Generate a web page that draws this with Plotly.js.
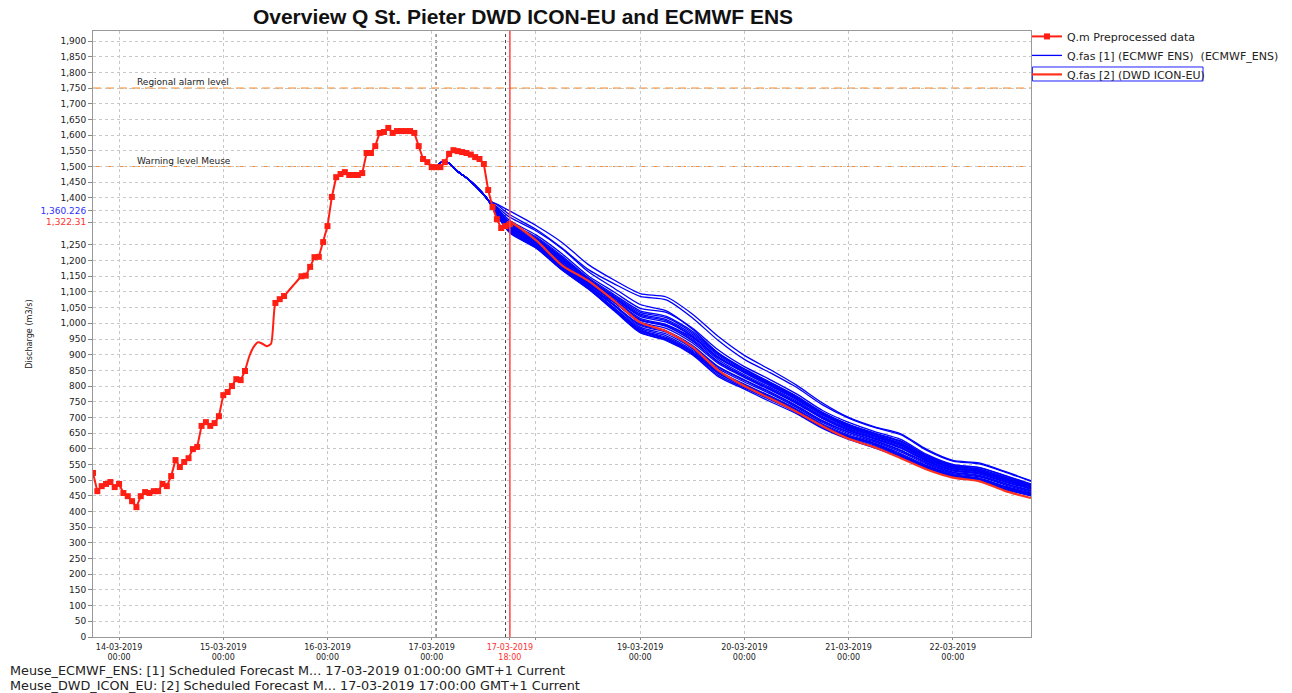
<!DOCTYPE html>
<html>
<head>
<meta charset="utf-8">
<script src="https://cdn.plot.ly/plotly-3.0.1.min.js"></script>
<style>html,body{margin:0;padding:0;background:#fff;}#chart{width:1292px;height:693px;}</style>
</head>
<body>
<div id="chart"></div>
<script>
// ---------- DATA ----------
// Observed (Q.m Preprocessed data), hourly from 2019-03-13 18:00; null = no measured point
const obsStart = [2019, 2, 13, 18];
const obsValues = [
  523,465,481,488,494,478,488,459,449,433,414,449,462,459,465,465,488,481,513,564,
  542,558,570,599,606,673,685,673,682,704,771,781,800,822,819,848,null,null,null,null,
  null,null,1065,1077,1087,null,null,null,1150,1152,1180,1211,1212,1259,1310,1403,1466,1476,1482,1473,
  1473,1473,1479,1543,1543,1565,1607,1610,1623,1607,1613,1613,1613,1613,1607,1565,1524,1514,1498,1498,
  1498,1514,1540,1552,1549,1546,1543,1538,1530,1524,1508,1425,1371,1332,1304,1310,1316
];
// Interpolated (line-only) part of the observed series, hourly from hour 35
const obsInterpStartHour = 35;
const obsInterp = [848,895,925,940,935,927,935,1065,1077,1087,1103,1119,1135,1150];

// ECMWF ENS: common start, then members
const ensCommonTimes = ['2019-03-17 01:00','2019-03-17 02:00','2019-03-17 03:00','2019-03-17 04:00','2019-03-17 06:00',
  '2019-03-17 08:00','2019-03-17 09:00','2019-03-17 11:00','2019-03-17 12:00','2019-03-17 13:00'];
const ensCommon = [1498,1512,1517,1510,1484,1464,1452,1425,1410,1393];
const ensMemberTimes = ['2019-03-17 15:00','2019-03-17 18:00',
  '2019-03-18 00:00','2019-03-18 06:00','2019-03-18 12:00','2019-03-18 18:00',
  '2019-03-19 00:00','2019-03-19 06:00','2019-03-19 12:00','2019-03-19 18:00',
  '2019-03-20 00:00','2019-03-20 06:00','2019-03-20 12:00','2019-03-20 18:00',
  '2019-03-21 00:00','2019-03-21 06:00','2019-03-21 12:00','2019-03-21 18:00',
  '2019-03-22 00:00','2019-03-22 06:00','2019-03-22 12:00','2019-03-22 18:00'];
const ensMembers = [
  [1380,1358,1312,1258,1188,1138,1095,1084,1030,958,898,852,803,746,700,670,648,598,563,555,528,498],
  [1378,1346,1300,1240,1172,1126,1086,1075,1018,945,885,842,796,740,698,668,645,595,561,552,526,496],
  [1372,1338,1295,1238,1165,1112,1060,1040,982,905,852,808,762,710,668,640,612,568,538,528,501,476],
  [1368,1328,1282,1222,1152,1100,1048,1035,985,915,862,820,775,722,684,655,630,582,550,541,515,488],
  [1365,1322,1276,1215,1146,1092,1040,1022,975,905,855,812,768,716,678,650,624,578,546,536,510,484],
  [1363,1320,1273,1211,1143,1088,1035,1018,970,902,852,810,766,715,677,649,622,577,545,535,509,483],
  [1362,1318,1270,1208,1140,1085,1030,1012,965,898,848,806,762,712,673,645,618,574,542,532,506,481],
  [1361,1316,1268,1206,1138,1082,1026,1008,960,893,845,803,759,709,671,643,616,572,540,530,504,479],
  [1360,1315,1266,1204,1136,1080,1022,1004,958,890,842,800,757,707,669,641,614,570,539,529,503,478],
  [1358,1312,1262,1200,1132,1076,1016,996,950,884,836,795,752,703,665,637,610,566,536,526,500,476],
  [1357,1310,1260,1198,1130,1074,1012,992,946,876,830,789,746,698,660,632,604,561,531,521,495,472],
  [1356,1309,1258,1196,1128,1072,1010,990,944,878,832,791,748,700,662,634,606,563,533,523,497,474],
  [1355,1306,1255,1192,1125,1068,1004,984,938,872,827,787,744,696,658,631,602,560,530,520,494,471],
  [1354,1304,1253,1188,1121,1058,996,975,930,862,820,781,738,690,654,627,596,556,526,516,490,467],
  [1353,1300,1248,1182,1118,1066,1010,995,955,890,845,805,762,712,675,648,625,578,548,540,514,486],
  [1352,1300,1250,1185,1120,1060,993,972,926,860,818,779,736,688,652,625,594,554,524,514,488,465],
  [1351,1297,1246,1178,1115,1050,984,960,914,848,806,768,727,679,644,618,585,547,518,507,481,459],
  [1350,1298,1248,1182,1118,1056,988,966,920,855,813,775,732,684,648,622,590,551,521,511,485,462],
  [1349,1302,1256,1190,1126,1070,1000,975,920,848,800,760,720,670,632,606,574,540,512,500,472,451],
  [1348,1294,1244,1176,1114,1048,980,955,910,845,803,767,724,676,641,616,582,545,516,505,479,457],
  [1347,1293,1243,1175,1113,1046,978,952,908,843,800,765,722,674,639,614,580,543,515,504,478,456],
  [1347,1292,1242,1173,1112,1044,975,950,905,840,798,762,720,672,637,612,578,542,514,502,476,455],
  [1346,1290,1241,1171,1111,1042,972,947,902,835,794,756,716,668,634,608,575,540,512,500,473,452],
  [1345,1288,1240,1170,1110,1040,970,945,900,830,790,750,712,665,630,603,572,537,510,498,470,450]
];

// DWD ICON-EU forecast
const dwdTimes = ['2019-03-17 17:00','2019-03-17 18:00',
  '2019-03-18 00:00','2019-03-18 06:00','2019-03-18 12:00','2019-03-18 18:00',
  '2019-03-19 00:00','2019-03-19 06:00','2019-03-19 12:00','2019-03-19 18:00',
  '2019-03-20 00:00','2019-03-20 06:00','2019-03-20 12:00','2019-03-20 18:00',
  '2019-03-21 00:00','2019-03-21 06:00','2019-03-21 12:00','2019-03-21 18:00',
  '2019-03-22 00:00','2019-03-22 06:00','2019-03-22 12:00','2019-03-22 18:00'];
const dwdValues = [1316,1322,1265,1185,1136,1072,1003,975,925,850,800,760,718,672,632,605,570,534,508,497,466,443];

// Thresholds
const thresholdNames = ['Regional alarm level','Warning level Meuse'];
const thresholdValues = [1750, 1500];

// Axis ticks
const yTickVals = [0,50,100,150,200,250,300,350,400,450,500,550,600,650,700,750,800,850,900,950,1000,1050,1100,1150,1200,1250,
  1322.31,1360.226,1400,1450,1500,1550,1600,1650,1700,1750,1800,1850,1900];
const yTickText = ['0','50','100','150','200','250','300','350','400','450','500','550','600','650','700','750','800','850','900','950',
  '1,000','1,050','1,100','1,150','1,200','1,250',
  '<span style="color:#ff3030">1,322.31</span>','<span style="color:#3030ff">1,360.226</span>',
  '1,400','1,450','1,500','1,550','1,600','1,650','1,700','1,750','1,800','1,850','1,900'];
const xTickVals = ['2019-03-14 00:00','2019-03-15 00:00','2019-03-16 00:00','2019-03-17 00:00','2019-03-17 18:00',
  '2019-03-18 00:00','2019-03-19 00:00','2019-03-20 00:00','2019-03-21 00:00','2019-03-22 00:00'];
const xTickText = ['14-03-2019<br>00:00','15-03-2019<br>00:00','16-03-2019<br>00:00','17-03-2019<br>00:00',
  '<span style="color:#ff3030">17-03-2019<br>18:00</span>','',
  '19-03-2019<br>00:00','20-03-2019<br>00:00','21-03-2019<br>00:00','22-03-2019<br>00:00'];

const ecmwfT0 = '2019-03-17 01:00';
const dwdT0 = '2019-03-17 17:00';
const displayTime = '2019-03-17 18:00';

const footerLines = [
  'Meuse_ECMWF_ENS: [1] Scheduled Forecast M... 17-03-2019 01:00:00 GMT+1 Current',
  'Meuse_DWD_ICON_EU: [2] Scheduled Forecast M... 17-03-2019 17:00:00 GMT+1 Current'
];

// ---------- BUILD ----------
function pad(n){return (n<10?'0':'')+n;}
function hourTime(h){
  const d = new Date(Date.UTC(obsStart[0],obsStart[1],obsStart[2],obsStart[3]) + h*3600000);
  return d.getUTCFullYear()+'-'+pad(d.getUTCMonth()+1)+'-'+pad(d.getUTCDate())+' '+pad(d.getUTCHours())+':00';
}
const obsTimes = obsValues.map((v,i)=>hourTime(i));
const obsInterpTimes = obsInterp.map((v,i)=>hourTime(obsInterpStartHour+i));

const FONT = 'DejaVu Sans, Verdana, sans-serif';
const RED = 'rgb(255,30,20)';
const traces = [];

ensMembers.forEach((m,k)=>{
  traces.push({
    type:'scatter', mode:'lines',
    x: ensCommonTimes.concat(ensMemberTimes),
    y: ensCommon.concat(m),
    line:{color:'#0000ff', width:1.3, shape:'spline', smoothing:0.7},
    name:'Q.fas [1] (ECMWF ENS) \u00a0(ECMWF_ENS)',
    legendgroup:'ens', showlegend:k===0, legendrank:2,
    hoverinfo:'x+y'
  });
});
traces.push({
  type:'scatter', mode:'lines', x: dwdTimes, y: dwdValues,
  line:{color:'rgb(255,50,30)', width:2.2, shape:'spline', smoothing:0.7},
  name:'Q.fas [2] (DWD ICON-EU)', legendrank:3
});
traces.push({
  type:'scatter', mode:'lines', x: obsInterpTimes, y: obsInterp,
  line:{color:RED, width:2, shape:'spline', smoothing:0.6},
  showlegend:false, hoverinfo:'x+y'
});
traces.push({
  type:'scatter', mode:'lines+markers', x: obsTimes, y: obsValues,
  line:{color:RED, width:2}, marker:{color:RED, symbol:'square', size:6},
  connectgaps:false,
  name:'Q.m Preprocessed data', legendrank:1
});

const shapes = [];
thresholdValues.forEach(v=>{
  shapes.push({type:'line', xref:'paper', x0:0, x1:1, yref:'y', y0:v, y1:v,
    line:{color:'rgb(255,140,40)', width:1.2, dash:'8px,5px'}, layer:'below'});
});
shapes.push({type:'line', xref:'x', x0:ecmwfT0, x1:ecmwfT0, yref:'paper', y0:0, y1:1,
  line:{color:'#444', width:1, dash:'dot'}, layer:'below'});
shapes.push({type:'line', xref:'x', x0:dwdT0, x1:dwdT0, yref:'paper', y0:0, y1:1,
  line:{color:'#444', width:1, dash:'dot'}, layer:'below'});
shapes.push({type:'line', xref:'x', x0:displayTime, x1:displayTime, yref:'paper', y0:0, y1:1,
  line:{color:'rgb(255,70,70)', width:1.5}});
// selection box around the DWD legend entry
shapes.push({type:'rect', xref:'paper', yref:'paper', x0:1.0015, x1:1.1834, y0:0.9175, y1:0.9406,
  line:{color:'#2020ff', width:1}, fillcolor:'rgba(0,0,0,0)'});

const annotations = [];
thresholdNames.forEach((t,i)=>{
  annotations.push({xref:'paper', x:0.045, yref:'y', y:thresholdValues[i], text:t, showarrow:false,
    xanchor:'left', yanchor:'bottom', yshift:-1, font:{family:FONT, size:9, color:'#222'}});
});
footerLines.forEach((t,i)=>{
  annotations.push({xref:'paper', x:-0.0906, yref:'paper', y:-0.0545 - i*0.0248, text:t, showarrow:false,
    xanchor:'left', yanchor:'middle', font:{family:FONT, size:12.8, color:'#222'}});
});

const layout = {
  width:1292, height:693,
  margin:{l:93, r:261, t:31, b:56, autoexpand:false},
  paper_bgcolor:'#ffffff', plot_bgcolor:'#ffffff',
  title:{text:'<b>Overview Q St. Pieter DWD ICON-EU and ECMWF ENS</b>', x:523/1292, xref:'container', xanchor:'center',
    y:1-17/693, yref:'container', yanchor:'middle', font:{family:'Liberation Sans, Arial, sans-serif', size:21, color:'#111'}},
  showlegend:true,
  legend:{x:0.9957, xanchor:'left', y:1.015, yanchor:'top', bgcolor:'rgba(0,0,0,0)', borderwidth:0,
    font:{family:FONT, size:11, color:'#222'}, tracegroupgap:0},
  xaxis:{type:'date', range:['2019-03-13 18:00','2019-03-22 18:00'], tickmode:'array', tickvals:xTickVals, ticktext:xTickText,
    showgrid:true, gridcolor:'#c8c8c8', griddash:'dot', gridwidth:1,
    showline:true, linecolor:'#999', linewidth:1, mirror:true, zeroline:false,
    ticks:'outside', ticklen:2, tickcolor:'#888',
    tickfont:{family:FONT, size:8, color:'#222'}},
  yaxis:{range:[0,1932], tickmode:'array', tickvals:yTickVals, ticktext:yTickText,
    showgrid:true, gridcolor:'#c8c8c8', griddash:'dot', gridwidth:1,
    showline:true, linecolor:'#999', linewidth:1, mirror:true, zeroline:false,
    ticks:'outside', ticklen:4, tickcolor:'#888',
    tickfont:{family:FONT, size:9, color:'#222'},
    title:{text:'Discharge (m3/s)', standoff:6, font:{family:'Liberation Sans Narrow, DejaVu Sans Condensed, Liberation Sans, sans-serif', size:9, color:'#222'}}},
  shapes:shapes, annotations:annotations, hovermode:'closest'
};

Plotly.newPlot('chart', traces, layout, {displayModeBar:false, staticPlot:true});
</script>
</body>
</html>
